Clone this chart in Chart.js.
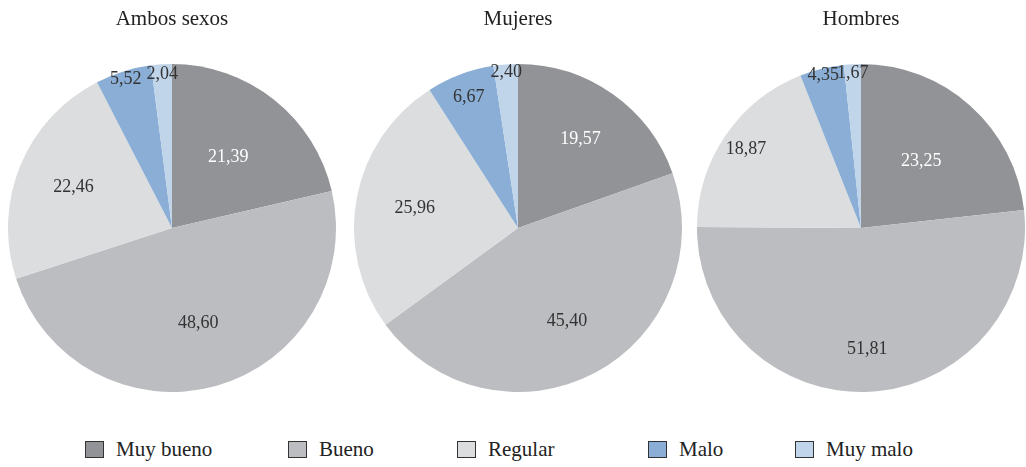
<!DOCTYPE html>
<html>
<head>
<meta charset="utf-8">
<script src="https://cdn.jsdelivr.net/npm/chart.js@4"></script>
<style>
  html, body { margin: 0; padding: 0; background: #fff; }
  body { width: 1026px; height: 467px; position: relative; overflow: hidden; font-family: "Liberation Serif", serif; }
  .pie { position: absolute; top: 0; width: 328px; height: 394px; }
  #legend { position: absolute; left: 0; top: 437px; width: 1026px; height: 28px; }
  .item { position: absolute; top: 0; display: flex; align-items: center; font-size: 21px; color: #222; white-space: nowrap; }
  .box { width: 17px; height: 15px; border: 1.6px solid #333; margin-right: 12px; }
</style>
</head>
<body>
<div class="pie" style="left:8px"><canvas id="c0"></canvas></div>
<div class="pie" style="left:354px"><canvas id="c1"></canvas></div>
<div class="pie" style="left:697px"><canvas id="c2"></canvas></div>
<div id="legend"></div>
<script>
const categories = ["Muy bueno", "Bueno", "Regular", "Malo", "Muy malo"];
const groups = ["Ambos sexos", "Mujeres", "Hombres"];
const ambosSexos = [21.39, 48.60, 22.46, 5.52, 2.04];
const mujeres = [19.57, 45.40, 25.96, 6.67, 2.40];
const hombres = [23.25, 51.81, 18.87, 4.35, 1.67];
const seriesValues = [ambosSexos, mujeres, hombres];

// layout: colours and label placement (fraction of the radius)
const colors = ["#929396", "#bcbdc0", "#dcdddf", "#8aaed5", "#c0d4ea"];
const labelColors = ["#ffffff", "#333333", "#333333", "#333333", "#333333"];
const labelRadius = [
  [0.55, 0.60, 0.65, 0.95, 0.94],
  [0.66, 0.64, 0.64, 0.85, 0.95],
  [0.55, 0.74, 0.85, 0.96, 0.945]
];
const legendX = [85, 288, 457, 648, 795];

const labelPlugin = {
  id: 'sliceLabels',
  afterDatasetsDraw(chart, args, opts) {
    const ctx = chart.ctx;
    const meta = chart.getDatasetMeta(0);
    const data = chart.data.datasets[0].data;
    const fr = opts.radius;
    ctx.save();
    ctx.font = '18px "Liberation Serif", serif';
    ctx.textAlign = 'center';
    ctx.textBaseline = 'middle';
    meta.data.forEach((arc, i) => {
      const p = arc.getProps(['x', 'y', 'startAngle', 'endAngle', 'outerRadius'], true);
      const mid = (p.startAngle + p.endAngle) / 2;
      const r = p.outerRadius * fr[i];
      const x = p.x + Math.cos(mid) * r;
      const y = p.y + Math.sin(mid) * r;
      ctx.fillStyle = labelColors[i];
      ctx.fillText(data[i].toFixed(2).replace('.', ','), x, y);
    });
    ctx.restore();
  }
};

seriesValues.forEach((vals, k) => {
  new Chart(document.getElementById('c' + k), {
    type: 'pie',
    data: {
      labels: categories,
      datasets: [{ data: vals, backgroundColor: colors, borderWidth: 0, hoverOffset: 0 }]
    },
    options: {
      responsive: true,
      maintainAspectRatio: false,
      animation: false,
      layout: { padding: 0 },
      plugins: {
        legend: { display: false },
        tooltip: { enabled: false },
        sliceLabels: { radius: labelRadius[k] },
        title: {
          display: true,
          text: groups[k],
          color: '#222',
          font: { family: '"Liberation Serif", serif', size: 21, weight: 'normal', lineHeight: 1.2 },
          padding: { top: 7, bottom: 29.8 }
        }
      }
    },
    plugins: [labelPlugin]
  });
});

const legend = document.getElementById('legend');
categories.forEach((c, i) => {
  const it = document.createElement('div');
  it.className = 'item';
  it.style.left = legendX[i] + 'px';
  const b = document.createElement('span');
  b.className = 'box';
  b.style.background = colors[i];
  const t = document.createElement('span');
  t.textContent = c;
  it.appendChild(b); it.appendChild(t);
  legend.appendChild(it);
});
</script>
</body>
</html>
